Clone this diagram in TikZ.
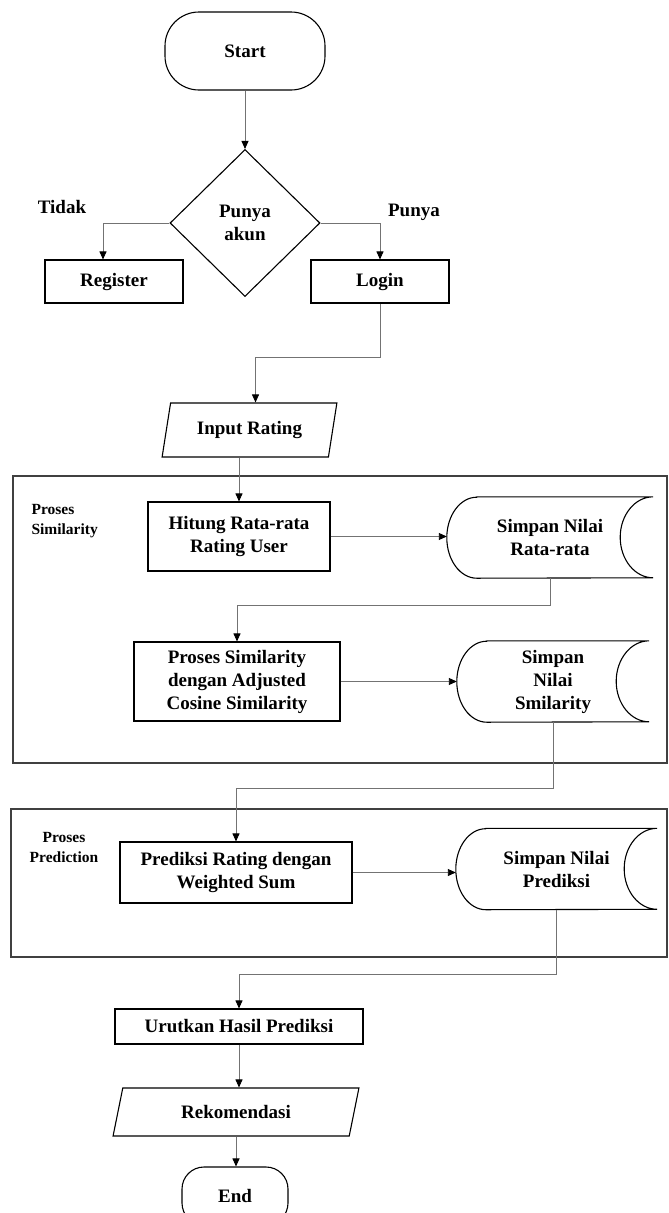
\documentclass[tikz,border=0pt]{standalone}
\usepackage{fontspec}
\setmainfont{Liberation Serif}
\usetikzlibrary{shapes.geometric,arrows.meta}
\tikzset{%
  terminal/.style = {shape=rectangle, rounded corners=34pt, draw, line width=1.1pt,%
                     minimum width=160pt, minimum height=78pt},%
  process/.style  = {shape=rectangle, draw, align=center, line width=1.1pt},%
  decision/.style = {shape=diamond, draw, aspect=1, align=center, inner sep=0pt,%
                     minimum width=150pt, minimum height=147pt, line width=1.1pt},%
  io/.style       = {shape=trapezium, trapezium left angle=76, trapezium right angle=104,%
                     trapezium stretches=true, draw, line width=1.1pt},%
  storage/.style  = {shape=rectangle, align=center, minimum height=81pt},%
  panel/.style    = {shape=rectangle, draw=black!75, line width=1.5pt},%
  note/.style     = {font=\bfseries\fontsize{15.5}{20}\selectfont},%
  flow/.style     = {draw=black!55, line width=0.9pt, -{Triangle[length=8pt,width=7pt,black]}}%
}
\begin{document}
\begin{tikzpicture}[x=1pt, y=1pt, every node/.style = {font=\bfseries\fontsize{19}{23}\selectfont}]%
	\useasboundingbox (0,0) rectangle (669,-1213);
	% the two process panels
	\node[panel, minimum width=654pt, minimum height=287pt] (simpanel) at (340,-619.5) {};
	\node[panel, minimum width=656pt, minimum height=148pt] (predpanel) at (339,-883) {};
	\node[note, align=left, anchor=west] (simnote) at (28,-521) {Proses\\Similarity};
	\node[note, align=center] (prednote) at (64,-847) {Proses\\Prediction};
	% main flow
	\node[terminal] (start) at (245,-51) {Start};
	\node[decision] (ask) at (245,-223) {Punya\\akun};
	\node[process, minimum width=138pt, minimum height=43pt] (register) at (114,-281.5) {Register};
	\node[process, minimum width=138pt, minimum height=43pt] (login) at (380,-281.5) {Login};
	\node (tidak) at (62,-207) {Tidak};
	\node (punya) at (414,-212) {Punya};
	\node[io, minimum width=175pt, minimum height=54pt] (input) at (249.5,-430) {Input Rating};
	\node[process, minimum width=182pt, minimum height=69pt] (hitung) at (239,-536.5) {Hitung Rata-rata\\Rating User};
	\node[storage, minimum width=206pt] (avg) at (550,-537.5) {Simpan Nilai\\Rata-rata};
	\node[process, minimum width=206pt, minimum height=79pt] (cosine) at (237,-681.5) {Proses Similarity\\dengan Adjusted\\Cosine Similarity};
	\node[storage, minimum width=192pt] (sim) at (553,-681.5) {Simpan\\Nilai\\Smilarity};
	\node[process, minimum width=232pt, minimum height=61pt] (predict) at (236,-872.5) {Prediksi Rating dengan\\Weighted Sum};
	\node[storage, minimum width=201pt] (pred) at (556.5,-869) {Simpan Nilai\\Prediksi};
	\node[process, minimum width=248pt, minimum height=35pt] (sort) at (239,-1026.5) {Urutkan Hasil Prediksi};
	\node[io, minimum width=246pt, minimum height=48pt] (rekom) at (236,-1112) {Rekomendasi};
	\node[terminal, rounded corners=22pt, minimum width=106pt, minimum height=58pt] (end) at (235,-1196) {End};
	% stored data outlines
	\foreach \s in {avg,sim,pred}{
		\draw[line width=1.1pt] ([xshift=30pt]\s.north west) -- (\s.north east)
			arc[start angle=90, end angle=270, x radius=33pt, y radius=40.5pt]
			-- ([xshift=30pt]\s.south west)
			arc[start angle=270, end angle=90, x radius=30pt, y radius=40.5pt] -- cycle;
	}
	% connectors
	\draw[flow] (start.south) -- (ask.north);
	\draw[flow] (ask.west) -| ([xshift=-11pt]register.north);
	\draw[flow] (ask.east) -| (login.north);
	\draw[flow] (login.south) -- ++(0,-54) -| ([xshift=6pt]input.north);
	\draw[flow] (input.south -| hitung.north) -- (hitung.north);
	\draw[flow] (hitung.east) -- (hitung.east -| avg.west);
	\draw[flow] (avg.south) -- ++(0,-27) -| (cosine.north);
	\draw[flow] (cosine.east) -- (cosine.east -| sim.west);
	\draw[flow] (sim.south) -- ++(0,-66) -| (predict.north);
	\draw[flow] (predict.east) -- (predict.east -| pred.west);
	\draw[flow] (pred.south) -- ++(0,-65) -| (sort.north);
	\draw[flow] (sort.south) -- (sort.south |- rekom.north);
	\draw[flow] (rekom.south) -- (rekom.south |- end.north);
\end{tikzpicture}
\end{document}
